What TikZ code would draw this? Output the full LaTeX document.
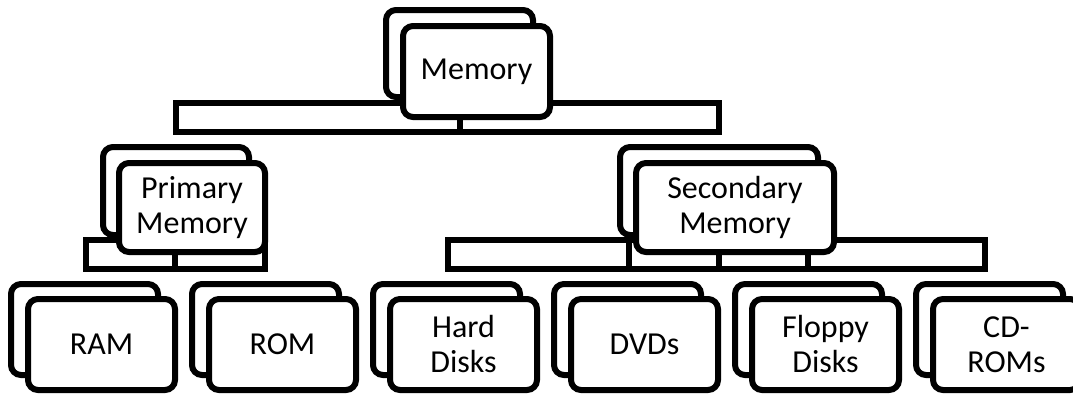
\documentclass[tikz,border=0pt]{standalone}
\usepackage{fontspec}
\setmainfont{Carlito}
\begin{document}
\begin{tikzpicture}[x=1pt,y=-1pt,
  card/.style={draw=black, line width=6pt, rounded corners=10pt, fill=white, inner sep=0pt, align=center, font=\fontsize{32}{35}\selectfont},
  backcard/.style={draw=black, line width=6pt, rounded corners=10pt, fill=white, inner sep=0pt},
  bar/.style={draw=black, line width=6pt, fill=white, inner sep=0pt},
  stub/.style={draw=black, line width=6pt}]
\useasboundingbox (0,0) rectangle (1073,394);
\clip (0,0) rectangle (1073,394);
% connector bars
\node[bar, minimum width=543pt, minimum height=29pt] (membar) at (447.5,117.5) {};
\node[bar, minimum width=179pt, minimum height=29pt] (pribar) at (175.5,254.5) {};
\node[bar, minimum width=537pt, minimum height=29pt] (secbar) at (716.5,254.5) {};
% stub coordinates
\coordinate (ms) at (460,132);
\coordinate (ps) at (175,269);
\coordinate (s1) at (629,269);
\coordinate (s2) at (719,269);
\coordinate (s3) at (808,269);
% Memory
\node[backcard, minimum width=147pt, minimum height=87pt] (memB) at (459.5,53.5) {};
\node[card, minimum width=147pt, minimum height=91pt] (mem) at (476.5,71.5) {Memory};
% Primary
\node[backcard, minimum width=146pt, minimum height=88pt] (priB) at (176,191) {};
\node[card, minimum width=146pt, minimum height=89pt] (pri) at (192,207.5) {Primary\\Memory};
% Secondary
\node[backcard, minimum width=198pt, minimum height=88pt] (secB) at (719,191) {};
\node[card, minimum width=198pt, minimum height=89pt] (sec) at (735,207.5) {Secondary\\Memory};
% stubs
\draw[stub] (ms) -- (ms |- mem.south);
\draw[stub] (ps) -- (ps |- pri.south);
\draw[stub] (s1) -- (s1 |- secbar.north);
\draw[stub] (s2) -- (s2 |- sec.south);
\draw[stub] (s3) -- (s3 |- sec.south);
% bottom row
\node[backcard, minimum width=147pt, minimum height=91pt] (ramB) at (84.5,329.5) {};
\node[card, minimum width=147pt, minimum height=91pt] (ram) at (101.5,344.5) {RAM};
\node[backcard, minimum width=147pt, minimum height=91pt] (romB) at (265.5,329.5) {};
\node[card, minimum width=147pt, minimum height=91pt] (rom) at (282.5,344.5) {ROM};
\node[backcard, minimum width=147pt, minimum height=91pt] (hdB) at (446.5,329.5) {};
\node[card, minimum width=147pt, minimum height=91pt] (hd) at (463.5,344.5) {Hard\\Disks};
\node[backcard, minimum width=147pt, minimum height=91pt] (dvdB) at (627.5,329.5) {};
\node[card, minimum width=147pt, minimum height=91pt] (dvd) at (644.5,344.5) {DVDs};
\node[backcard, minimum width=147pt, minimum height=91pt] (flB) at (808.5,329.5) {};
\node[card, minimum width=147pt, minimum height=91pt] (fl) at (825.5,344.5) {Floppy\\Disks};
\node[backcard, minimum width=147pt, minimum height=91pt] (cdB) at (989.5,329.5) {};
\node[card, minimum width=147pt, minimum height=91pt] (cd) at (1006.5,344.5) {CD-\\ROMs};
\end{tikzpicture}
\end{document}
